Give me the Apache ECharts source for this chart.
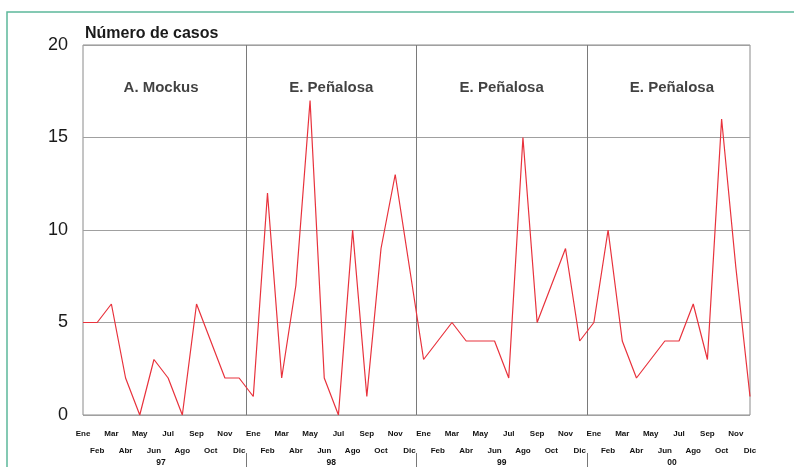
<!DOCTYPE html>
<html>
<head>
<meta charset="utf-8">
<script src="https://cdn.jsdelivr.net/npm/echarts@6/dist/echarts.min.js"></script>
<style>
  html, body { margin: 0; padding: 0; background: #fff; }
  #chart { width: 794px; height: 467px; }
</style>
</head>
<body>
<div id="chart"></div>
<script>
// months, two rows under the axis
const monthNames = ["Ene", "Feb", "Mar", "Abr", "May", "Jun", "Jul", "Ago", "Sep", "Oct", "Nov", "Dic"];
const yearLabels = ["97", "98", "99", "00"];
const panelNames = ["A. Mockus", "E. Peñalosa", "E. Peñalosa", "E. Peñalosa"];

// número de casos por mes
const cases97 = [5, 5, 6, 2, 0, 3, 2, 0, 6, 4, 2, 2];
const cases98 = [1, 12, 2, 7, 17, 2, 0, 10, 1, 9, 13, 8];
const cases99 = [3, 4, 5, 4, 4, 4, 2, 15, 5, 7, 9, 4];
const cases00 = [5, 10, 4, 2, 3, 4, 4, 6, 3, 16, 8, 1];

const yTicks = [0, 5, 10, 15, 20];

let categories = [];
for (let y = 0; y < yearLabels.length; y++) {
    for (let m = 0; m < 12; m++) categories.push(monthNames[m]);
}
const allCases = cases97.concat(cases98, cases99, cases00);

// year centres and boundaries, in month index
const yearCenters = yearLabels.map((y, i) => i * 12 + 5.5);
const yearBounds = [11.5, 23.5, 35.5];

const font = "'Liberation Sans', Arial, sans-serif";

let myChart = echarts.init(document.getElementById("chart"));
let option = {
    animation: false,
    backgroundColor: "#fff",
    title: {
        text: "Número de casos",
        left: 80,
        top: 21,
        textStyle: { fontFamily: font, fontSize: 16, fontWeight: "bold", color: "#1a1a1a" }
    },
    graphic: [{
        type: "rect",
        shape: { x: 7, y: 12, width: 820, height: 520 },
        style: { fill: "none", stroke: "#5cb89b", lineWidth: 1.5 },
        silent: true
    }],
    grid: {
        left: 83, right: 44, top: 45, bottom: 52,
        show: true, borderColor: "#8a8a8a", borderWidth: 1
    },
    xAxis: [
        {
            type: "category",
            data: categories,
            boundaryGap: false,
            axisLine: { show: false },
            axisTick: { show: false },
            splitLine: { show: false },
            axisLabel: {
                interval: 0,
                margin: 10,
                fontFamily: font,
                fontSize: 8,
                fontWeight: "bold",
                color: "#111",
                lineHeight: 17,
                verticalAlign: "top",
                formatter: (v, i) => (i % 2 === 0 ? v : "\n" + v)
            }
        },
        {
            type: "value",
            position: "bottom",
            offset: 38,
            min: 0,
            max: 47,
            axisLine: { show: false },
            splitLine: { show: false },
            axisTick: {
                show: true,
                customValues: yearBounds,
                length: 14,
                lineStyle: { color: "#777", width: 1 }
            },
            axisLabel: {
                customValues: yearCenters,
                margin: 5,
                fontFamily: font,
                fontSize: 8.5,
                fontWeight: "bold",
                color: "#111",
                formatter: v => yearLabels[Math.round((v - 5.5) / 12)]
            }
        }
    ],
    yAxis: {
        type: "value",
        min: yTicks[0],
        max: yTicks[yTicks.length - 1],
        interval: 5,
        axisLine: { show: false },
        axisTick: { show: false },
        splitLine: { show: true, lineStyle: { color: "#a0a0a0", width: 1 } },
        axisLabel: {
            margin: 15,
            fontFamily: font,
            fontSize: 18,
            color: "#1a1a1a"
        }
    },
    series: [
        {
            name: "casos",
            type: "line",
            data: allCases,
            symbol: "none",
            lineStyle: { color: "#e8323c", width: 1.2 },
            z: 5
        },
        {
            name: "alcaldes",
            type: "scatter",
            xAxisIndex: 1,
            symbolSize: 1,
            itemStyle: { color: "rgba(0,0,0,0)" },
            data: panelNames.map((n, i) => ({ name: n, value: [yearCenters[i], 17.7] })),
            label: {
                show: true,
                position: "inside",
                formatter: "{b}",
                fontFamily: font,
                fontSize: 15,
                fontWeight: "bold",
                color: "#111"
            },
            markLine: {
                silent: true,
                symbol: "none",
                label: { show: false },
                lineStyle: { color: "#7a7a7a", width: 1, type: "solid" },
                data: yearBounds.map(b => ({ xAxis: b }))
            },
            z: 3
        }
    ]
};
myChart.setOption(option);
</script>
</body>
</html>
